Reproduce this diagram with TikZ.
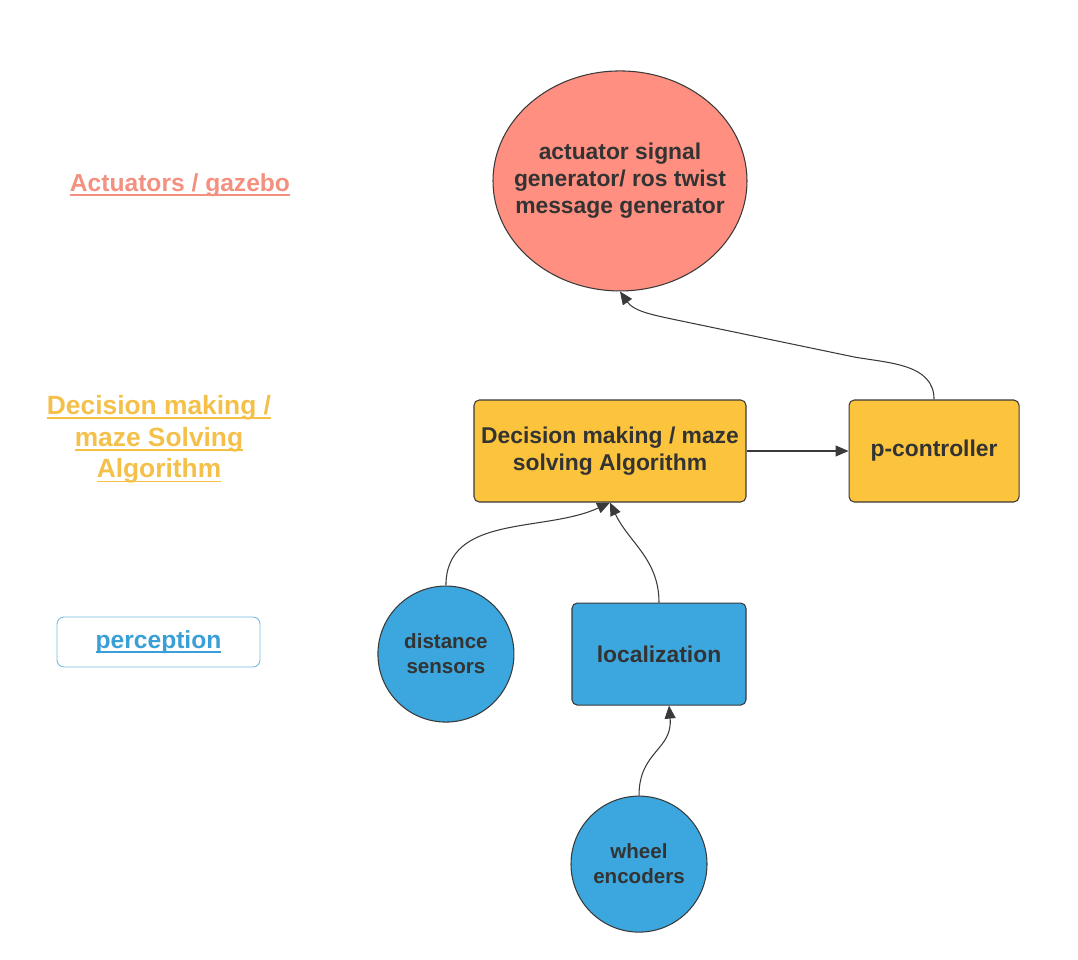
\documentclass[tikz,border=0pt]{standalone}
\usepackage{fontspec}
\setmainfont{Liberation Sans}
\usepackage{xcolor}
\definecolor{actred}{HTML}{FF8F80}
\definecolor{actlabel}{HTML}{F3907F}
\definecolor{decyellow}{HTML}{FCC43C}
\definecolor{declabel}{HTML}{F4C04A}
\definecolor{percblue}{HTML}{3BA7DE}
\definecolor{perclabel}{HTML}{3A9FD6}
\definecolor{edgegray}{HTML}{3A3A3A}
\definecolor{txtgray}{HTML}{333333}
\usetikzlibrary{arrows.meta,positioning,shapes.geometric}
\newcommand{\lbl}[1]{{\setbox0\hbox{#1}\leavevmode\rlap{\rule[-2.6pt]{\wd0}{1.1pt}}\box0}}

\begin{document}
\begin{tikzpicture}[
  node distance=2cm,
  box/.style={draw=edgegray, rounded corners=3pt, minimum height=2.04cm, align=center,
              text=txtgray, line width=0.6pt, font=\fontsize{13}{15.5}\selectfont\bfseries},
  decbox/.style={box, fill=decyellow},
  percbox/.style={box, fill=percblue},
  sensor/.style={circle, draw=edgegray, line width=0.6pt, fill=percblue, minimum size=2.72cm,
                 inner sep=0pt, align=center, text=txtgray, font=\fontsize{11.7}{14.2}\selectfont\bfseries},
  layer/.style={align=center, font=\fontsize{14}{18}\selectfont\bfseries},
  arr/.style={-{Triangle[length=2.6mm,width=2.2mm]}, line width=0.6pt, draw=edgegray}
]
\useasboundingbox (0,0) rectangle (21.56,-19.2);
% layer labels
\node[layer, text=actlabel] (actlayer) at (3.6,-3.7) {\lbl{Actuators / gazebo}};
\node[layer, text=declabel, font=\fontsize{15}{18}\selectfont\bfseries] (declayer) at (3.18,-8.79) {\lbl{Decision making /}\\\lbl{maze Solving}\\\lbl{Algorithm}};
\node[layer, text=perclabel, draw=perclabel!70, rounded corners=4pt, line width=0.5pt,
      minimum width=4.06cm, minimum height=1cm] (perclayer) at (3.17,-12.84) {\lbl{perception}};
% blocks
\node[decbox, minimum width=5.44cm] (decide) at (12.2,-9.02) {Decision making / maze\\solving Algorithm};
\node[decbox, minimum width=3.4cm, right=2.04cm of decide] (pctrl) {p-controller};
\node[ellipse, draw=edgegray, line width=0.6pt, fill=actred, minimum width=5.08cm, minimum height=4.4cm,
      inner xsep=-0.4cm, inner ysep=0pt, align=center, text=txtgray, font=\fontsize{13}{15.3}\selectfont\bfseries,
      above=2.16cm of decide, xshift=0.2cm] (act) {actuator signal\\generator/ ros twist\\message generator};
\node[percbox, minimum width=3.48cm, below=2cm of decide, xshift=0.98cm] (loc) {localization};
\node[sensor, left=1.14cm of loc] (dist) {distance\\sensors};
\node[sensor, below=1.8cm of loc, xshift=-0.4cm] (wheel) {wheel\\encoders};
% connectors
\draw[arr] (decide) -- (pctrl);
\draw[arr] (pctrl.north) to[out=90, in=-10] ++(-1.6,0.85) -- ++(-3.6,0.75) to[out=168, in=-55] (act.south);
\draw[arr] (dist.north) to[out=90, in=-155] (decide.south);
\draw[arr] (loc.north) to[out=90, in=-65] (decide.south);
\draw[arr] (wheel.north) to[out=90, in=-85, looseness=1.2] ([xshift=0.2cm]loc.south);
\end{tikzpicture}
\end{document}
